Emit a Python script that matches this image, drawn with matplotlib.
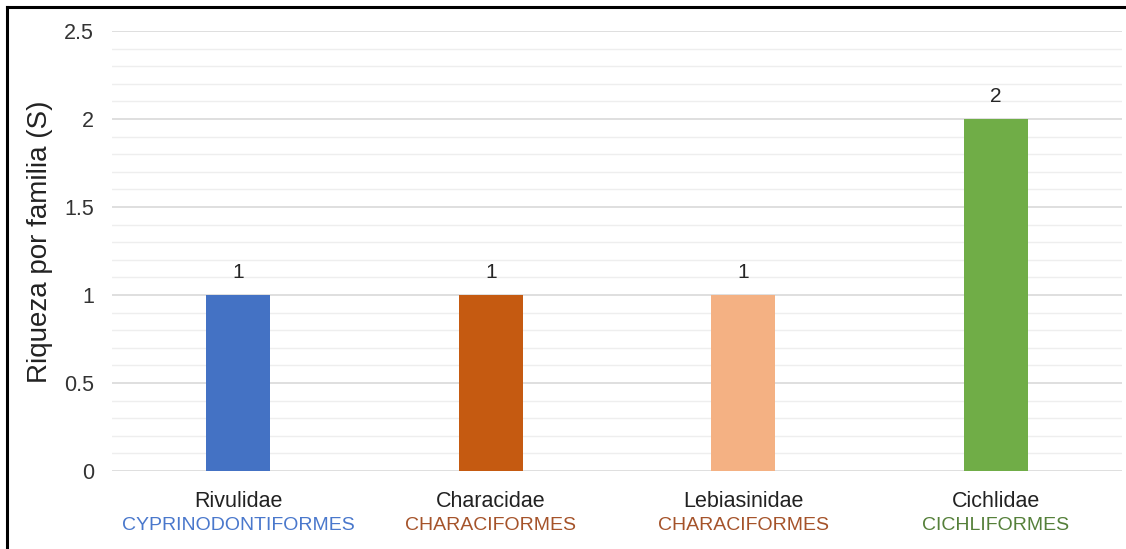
import matplotlib
matplotlib.use("Agg")
from matplotlib import pyplot as plt
from matplotlib.lines import Line2D
from matplotlib.ticker import MultipleLocator
import matplotlib.transforms as mtransforms

plt.rcParams['font.family'] = ['Liberation Sans', 'DejaVu Sans']

familias = ['Rivulidae', 'Characidae', 'Lebiasinidae', 'Cichlidae']
ordenes = ['CYPRINODONTIFORMES', 'CHARACIFORMES', 'CHARACIFORMES', 'CICHLIFORMES']
riqueza = [1, 1, 1, 2]
colores_barra = ['#4472C4', '#C55A11', '#F4B183', '#70AD47']
colores_orden = ['#4A78CC', '#A5532A', '#A5532A', '#55803A']

fig = plt.figure(figsize=(11.26, 5.49), dpi=100)
ax = fig.add_axes([112/1126, 1 - 471/549, (1122-112)/1126, 440/549])

x = range(len(familias))
ax.bar(x, riqueza, width=0.255, color=colores_barra, zorder=3)

for xi, v in zip(x, riqueza):
	ax.annotate(str(v), (xi, v), xytext=(0, 17), textcoords='offset pixels',
		ha='center', va='baseline', fontsize=15, color='#262626')

ax.set_xlim(-0.5, 3.5)
ax.set_ylim(0, 2.5)
ax.yaxis.set_minor_locator(MultipleLocator(0.1))
ax.set_yticks([0, 0.5, 1, 1.5, 2, 2.5])
ax.set_yticklabels(['0', '0.5', '1', '1.5', '2', '2.5'])
ax.grid(axis='y', which='major', color='#d9d9d9', linewidth=1.2, zorder=0)
ax.grid(axis='y', which='minor', color='#eeeeee', linewidth=1.0, zorder=0)
ax.tick_params(axis='y', which='both', length=0, pad=13, labelsize=15.5, labelcolor='#333333')
ax.set_xticks([])
for s in ax.spines.values():
	s.set_visible(False)

ax.set_ylabel('Riqueza por familia (S)', fontsize=20, color='#222222')
ax.yaxis.set_label_coords(-0.058, 0.52)

trans = mtransforms.blended_transform_factory(ax.transData, ax.transAxes)
for xi, fam, ord_, col in zip(x, familias, ordenes, colores_orden):
	ax.text(xi, -36/440, fam, transform=trans, ha='center', va='baseline',
		fontsize=15.5, color='#222222')
	ax.text(xi, -59/440, ord_, transform=trans, ha='center', va='baseline',
		fontsize=14, color=col)

# marco de la captura (solo bordes izquierdo y superior visibles)
fig.add_artist(Line2D([7/1126, 7/1126], [0, 1 - 7/549], color='black', linewidth=2.2,
	transform=fig.transFigure))
fig.add_artist(Line2D([7/1126, 1], [1 - 7/549, 1 - 7/549], color='black', linewidth=2.2,
	transform=fig.transFigure))

fig.savefig('out.png', dpi=100)
